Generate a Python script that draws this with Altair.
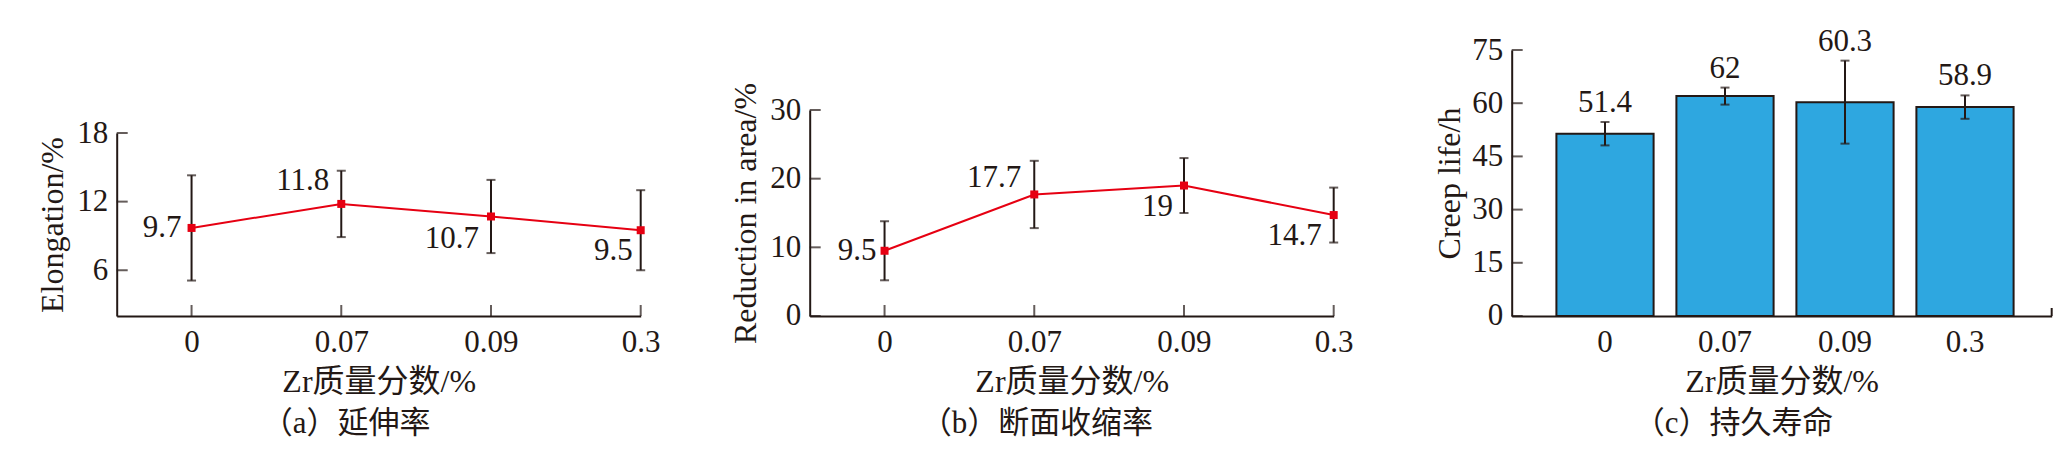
import altair as alt
import pandas as pd

# ---------------- data ----------------
categories = ["0", "0.07", "0.09", "0.3"]

elongation = [9.7, 11.8, 10.7, 9.5]
elongation_err = [4.6, 2.9, 3.2, 3.5]

reduction = [9.5, 17.7, 19.0, 14.7]
reduction_err = [4.3, 4.9, 4.0, 4.0]

creep = [51.4, 62.0, 60.3, 58.9]
creep_err = [3.3, 2.4, 11.7, 3.3]

elong_ticks = [6, 12, 18]
elong_domain = [2, 18]
red_ticks = [0, 10, 20, 30]
red_domain = [0, 30]
creep_ticks = [0, 15, 30, 45, 60, 75]
creep_domain = [0, 75]

x_title = "Zr质量分数/%"
y_titles = ["Elongation/%", "Reduction in area/%", "Creep life/h"]
subtitles = ["（a）延伸率", "（b）断面收缩率", "（c）持久寿命"]

# ---------------- styles ----------------
FONT = "Liberation Serif, Noto Sans CJK SC"
INK = "#231815"
RED = "#e60012"
BLUE = "#2ea7e0"
H = 266
W_LINE = 524
W_BAR = 540
FS = 31


def make_df(values, errs):
    return pd.DataFrame({
        "idx": list(range(len(categories))),
        "cat": categories,
        "v": values,
        "err": errs,
        "lo": [v - e for v, e in zip(values, errs)],
        "hi": [v + e for v, e in zip(values, errs)],
        "label": [f"{v:g}" for v in values],
    })


def y_axis(ticks, title, pad):
    return alt.Axis(values=ticks, title=title, ticks=False, tickSize=0, grid=False,
                    labelPadding=9, minExtent=40, maxExtent=40, titlePadding=pad,
                    domainColor=INK, domainWidth=2, labelBaseline="middle")


def subtitle(text, dx):
    return alt.TitleParams(text=text, orient="bottom", anchor="start", frame="group",
                           dx=dx, offset=11, font=FONT, fontSize=31,
                           fontWeight="normal", color=INK)


def line_panel(values, errs, ydomain, yticks, ytop, ytitle, sub, sub_dx, offsets,
               width_extra=0):
    df = make_df(values, errs)
    yscale = alt.Scale(domain=ydomain, range=[H, ytop], nice=False, zero=False)
    xscale = alt.Scale(domain=[-0.5, len(categories) - 1], range=[0, W_LINE],
                       nice=False, zero=False)
    label_expr = "[" + ",".join(f"'{c}'" for c in categories) + "][datum.value]"
    xaxis = alt.Axis(values=list(range(len(categories))), labelExpr=label_expr,
                     title=x_title, ticks=False, tickSize=0, grid=False,
                     labelFlush=False, labelOverlap=False, labelPadding=12,
                     titlePadding=9, domainColor=INK, domainWidth=2)
    yax = y_axis(yticks, ytitle, 7)
    X = alt.X("idx:Q", scale=xscale, axis=xaxis)
    base = alt.Chart(df)
    rule = base.mark_rule(color=INK, strokeWidth=2).encode(
        x=X, y=alt.Y("lo:Q", scale=yscale, axis=yax), y2="hi:Q")
    cap_lo = base.mark_tick(orient="horizontal", size=9, thickness=2, color=INK).encode(
        x=X, y=alt.Y("lo:Q", scale=yscale, axis=yax))
    cap_hi = base.mark_tick(orient="horizontal", size=9, thickness=2, color=INK).encode(
        x=X, y=alt.Y("hi:Q", scale=yscale, axis=yax))
    line = base.mark_line(color=RED, strokeWidth=2).encode(
        x=X, y=alt.Y("v:Q", scale=yscale, axis=yax))
    pts = base.mark_square(size=64, color=RED, opacity=1).encode(
        x=X, y=alt.Y("v:Q", scale=yscale, axis=yax))
    labels = []
    for i, (dx, dy) in enumerate(offsets):
        labels.append(base.transform_filter(f"datum.idx == {i}").mark_text(
            align="right", baseline="middle", dx=dx, dy=dy, font=FONT,
            fontSize=FS, color=INK).encode(
            x=X, y=alt.Y("v:Q", scale=yscale, axis=yax), text="label:N"))
    yt = alt.Chart(pd.DataFrame({"t": yticks})).mark_tick(
        orient="horizontal", size=11, thickness=2, color=INK).encode(
        y=alt.Y("t:Q", scale=yscale, axis=yax), x=alt.value(5.5))
    xt = base.mark_tick(orient="vertical", size=11, thickness=2, color=INK).encode(
        x=X, y=alt.value(H - 5.5))
    return alt.layer(rule, cap_lo, cap_hi, line, pts, *labels, yt, xt).properties(
        width=W_LINE + width_extra, height=H, title=subtitle(sub, sub_dx))


panel_a = line_panel(elongation, elongation_err, elong_domain, elong_ticks, 83,
                     y_titles[0], subtitles[0], 145,
                     [(-10, 0), (-12, -23), (-12, 23), (-8, 21)])
panel_b = line_panel(reduction, reduction_err, red_domain, red_ticks, 60,
                     y_titles[1], subtitles[1], 111,
                     [(-8, 0), (-13, -16), (-11, 21), (-12, 21)], width_extra=9)

# ---------------- bar panel ----------------
dfc = make_df(creep, creep_err)
yscale_c = alt.Scale(domain=creep_domain, nice=False, zero=True)
yax_c = y_axis(creep_ticks, y_titles[2], 5)
Xc = alt.X("cat:N", sort=categories,
           scale=alt.Scale(paddingInner=0.19, paddingOuter=0.345, align=0.54),
           axis=alt.Axis(title=x_title, labelAngle=0, ticks=False, tickSize=0,
                         labelPadding=12, titlePadding=9, domainColor=INK,
                         domainWidth=2))
bc = alt.Chart(dfc)
bars = bc.mark_bar(fill=BLUE, stroke=INK, strokeWidth=2).encode(
    x=Xc, y=alt.Y("v:Q", scale=yscale_c, axis=yax_c))
rule_c = bc.mark_rule(color=INK, strokeWidth=2).encode(
    x=Xc, y=alt.Y("lo:Q", scale=yscale_c, axis=yax_c), y2="hi:Q")
caplo_c = bc.mark_tick(orient="horizontal", size=9, thickness=2, color=INK).encode(
    x=Xc, y=alt.Y("lo:Q", scale=yscale_c, axis=yax_c))
caphi_c = bc.mark_tick(orient="horizontal", size=9, thickness=2, color=INK).encode(
    x=Xc, y=alt.Y("hi:Q", scale=yscale_c, axis=yax_c))
lab_c = bc.mark_text(baseline="alphabetic", align="center", dy=-10, font=FONT,
                     fontSize=FS, color=INK).encode(
    x=Xc, y=alt.Y("hi:Q", scale=yscale_c, axis=yax_c), text="label:N")
yt_c = alt.Chart(pd.DataFrame({"t": creep_ticks})).mark_tick(
    orient="horizontal", size=11, thickness=2, color=INK).encode(
    y=alt.Y("t:Q", scale=yscale_c, axis=yax_c), x=alt.value(5.5))
end_tick = alt.Chart(pd.DataFrame({"a": [0]})).mark_rule(color=INK, strokeWidth=2).encode(
    x=alt.value(W_BAR), y=alt.value(H - 8), y2=alt.value(H))
panel_c = alt.layer(bars, rule_c, caplo_c, caphi_c, lab_c, yt_c, end_tick).properties(
    width=W_BAR, height=H, title=subtitle(subtitles[2], 122))

chart = alt.hconcat(panel_a, panel_b, panel_c, spacing=169, bounds="flush").properties(
    padding={"left": 28.7, "top": 17, "right": 5, "bottom": 5},
).configure_view(stroke=None).configure_axis(
    labelFont=FONT, titleFont=FONT, labelFontSize=FS, titleFontSize=32,
    labelColor=INK, titleColor=INK, titleFontWeight="normal",
)

chart.save("out.html", embed_options={"renderer": "svg", "actions": False})
